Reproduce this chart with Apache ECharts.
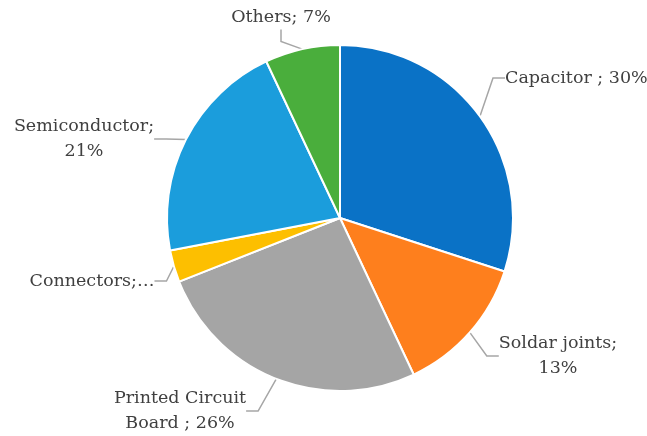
<!DOCTYPE html>
<html><head><meta charset="utf-8">
<script src="https://cdn.jsdelivr.net/npm/echarts@6/dist/echarts.min.js"></script>
<style>html,body{margin:0;padding:0;background:#fff}#c{width:647px;height:436px}</style>
</head><body><div id="c"></div>
<script>
var categories = ['Capacitor', 'Soldar joints', 'Printed Circuit Board', 'Connectors', 'Semiconductor', 'Others'];
var values = [30, 13, 26, 3, 21, 7];
var labelTexts = ['Capacitor ; 30%', 'Soldar joints;\n13%', 'Printed Circuit\nBoard ; 26%', 'Connectors;…', 'Semiconductor;\n21%', 'Others; 7%'];
var colors = ['#0a72c6', '#fe7f1d', '#a5a5a5', '#fdbf00', '#1b9ddc', '#4aae3c'];

// label anchor positions (layout only)
var labelPos = [
  {x: 505, y: 78, align: 'left'},
  {x: 558, y: 356, align: 'center'},
  {x: 180, y: 411, align: 'center'},
  {x: 92, y: 281, align: 'center'},
  {x: 84, y: 139, align: 'center'},
  {x: 281, y: 17, align: 'center'}
];

var chart = echarts.init(document.getElementById('c'));
chart.setOption({
  animation: false,
  series: [{
    type: 'pie',
    center: [340, 218],
    radius: 173,
    startAngle: 90,
    clockwise: true,
    itemStyle: {borderColor: '#fff', borderWidth: 2},
    label: {
      show: true,
      color: '#404040',
      fontFamily: 'DejaVu Serif',
      fontSize: 17.5,
      lineHeight: 25,
      overflow: 'none',
      formatter: function (p) { return labelTexts[p.dataIndex]; }
    },
    labelLine: {show: true, length: 15, length2: 12, lineStyle: {color: '#a6a6a6', width: 1.5}},
    labelLayout: function (p) {
      var lp = labelPos[p.dataIndex];
      return {x: lp.x, y: lp.y, align: lp.align, verticalAlign: 'middle'};
    },
    data: categories.map(function (c, i) {
      return {name: c, value: values[i], itemStyle: {color: colors[i]}, label: {align: labelPos[i].align}};
    })
  }]
});
</script></body></html>
